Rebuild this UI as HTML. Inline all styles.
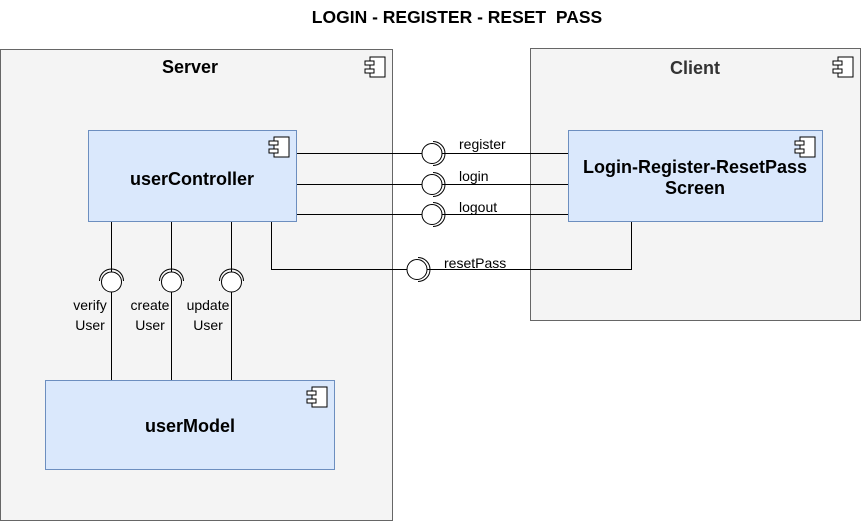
<!DOCTYPE html>
<html><head><meta charset="utf-8"><style>
html,body{margin:0;padding:0;background:#fff;}
svg{display:block;font-family:"Liberation Sans",Arial,sans-serif;}
</style></head><body>
<svg width="862" height="522" viewBox="0 0 862 522" xmlns="http://www.w3.org/2000/svg">
<defs>
<symbol id="ic" overflow="visible">
<rect x="5" y="0" width="15" height="20" fill="#fff" stroke="#000" stroke-width="1"/>
<rect x="0" y="4" width="9" height="4" fill="#fff" stroke="#000" stroke-width="1"/>
<rect x="0" y="12" width="9" height="4" fill="#fff" stroke="#000" stroke-width="1"/>
</symbol>
</defs>
<text x="457" y="23" text-anchor="middle" font-size="17.5" font-weight="bold">LOGIN - REGISTER - RESET&#160; PASS</text>
<!-- Server -->
<rect x="0.5" y="49.5" width="392" height="471" fill="#f4f4f4" stroke="#666"/>
<text x="190" y="73" text-anchor="middle" font-size="18" font-weight="bold">Server</text>
<use href="#ic" x="365" y="57"/>
<!-- Client -->
<rect x="530.5" y="48.5" width="330" height="272" fill="#f4f4f4" stroke="#666"/>
<text x="695" y="74" text-anchor="middle" font-size="18" font-weight="bold" fill="#333">Client</text>
<use href="#ic" x="833" y="57"/>
<!-- connectors -->
<g stroke="#000" fill="none" stroke-width="1">
<line x1="297" y1="153.5" x2="568" y2="153.5"/>
<line x1="297" y1="184.5" x2="568" y2="184.5"/>
<line x1="297" y1="214.5" x2="568" y2="214.5"/>
<polyline points="271.5,222 271.5,269.5 631.5,269.5 631.5,222"/>
<line x1="111.5" y1="222" x2="111.5" y2="380"/>
<line x1="171.5" y1="222" x2="171.5" y2="380"/>
<line x1="231.5" y1="222" x2="231.5" y2="380"/>
</g>
<g stroke="#000" fill="#fff" stroke-width="1">
<circle cx="432" cy="153.5" r="10"/><path d="M433,141.5 A12,12 0 0 1 433,165.5" fill="none"/>
<circle cx="432" cy="184.5" r="10"/><path d="M433,172.5 A12,12 0 0 1 433,196.5" fill="none"/>
<circle cx="432" cy="214.5" r="10"/><path d="M433,202.5 A12,12 0 0 1 433,226.5" fill="none"/>
<circle cx="417" cy="269.5" r="10"/><path d="M418,257.5 A12,12 0 0 1 418,281.5" fill="none"/>
<circle cx="111.5" cy="282" r="10"/><path d="M99.5,281 A12,12 0 0 1 123.5,281" fill="none"/>
<circle cx="171.5" cy="282" r="10"/><path d="M159.5,281 A12,12 0 0 1 183.5,281" fill="none"/>
<circle cx="231.5" cy="282" r="10"/><path d="M219.5,281 A12,12 0 0 1 243.5,281" fill="none"/>
</g>
<g font-size="14" fill="#000">
<text x="459" y="149">register</text>
<text x="459" y="181">login</text>
<text x="459" y="212">logout</text>
<text x="444" y="268">resetPass</text>
<text x="90" y="310" text-anchor="middle">verify</text>
<text x="90" y="330" text-anchor="middle">User</text>
<text x="150" y="310" text-anchor="middle">create</text>
<text x="150" y="330" text-anchor="middle">User</text>
<text x="208" y="310" text-anchor="middle">update</text>
<text x="208" y="330" text-anchor="middle">User</text>
</g>
<!-- components -->
<rect x="88.5" y="130.5" width="208" height="91" fill="#dae8fc" stroke="#6c8ebf"/>
<use href="#ic" x="269" y="137"/>
<text x="192" y="185" text-anchor="middle" font-size="18" font-weight="bold">userController</text>
<rect x="568.5" y="130.5" width="254" height="91" fill="#dae8fc" stroke="#6c8ebf"/>
<use href="#ic" x="795" y="137"/>
<text x="695" y="173" text-anchor="middle" font-size="18" font-weight="bold">Login-Register-ResetPass</text>
<text x="695" y="194" text-anchor="middle" font-size="18" font-weight="bold">Screen</text>
<rect x="45.5" y="380.5" width="289" height="89" fill="#dae8fc" stroke="#6c8ebf"/>
<use href="#ic" x="307" y="387"/>
<text x="190" y="432" text-anchor="middle" font-size="18" font-weight="bold">userModel</text>
</svg>
</body></html>
